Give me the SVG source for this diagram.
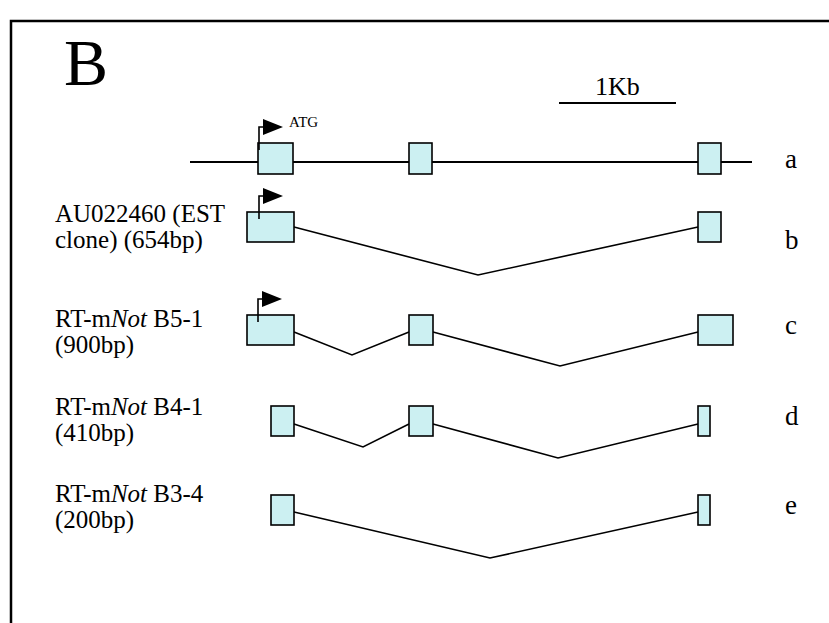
<svg xmlns="http://www.w3.org/2000/svg" width="829" height="623" viewBox="0 0 829 623">
<defs>
<style>
.ex{fill:#ccf0f2;stroke:#000;stroke-width:1.6}
.ln{fill:none;stroke:#000;stroke-width:1.6}
.t{font-family:"Liberation Serif","Times New Roman",serif;fill:#000}
.lab{font-size:25px}
.row{font-size:27px}
</style>
<g id="flag"><path d="M0,0 V-23 H4" fill="none" stroke="#000" stroke-width="1.6"/><polygon points="4,-31 4,-15 24,-23" fill="#000"/></g>
</defs>
<rect width="829" height="623" fill="#fff"/>
<path d="M11,623 V21 H829" fill="none" stroke="#000" stroke-width="2.5"/>
<text class="t" x="64" y="85" font-size="66">B</text>
<g id="scalebar">
<text class="t" x="595" y="95" font-size="26">1Kb</text>
<line x1="559" y1="103" x2="676" y2="103" stroke="#000" stroke-width="2.2"/>
</g>
<g id="connectors">
<line x1="190" y1="162" x2="752" y2="162" stroke="#000" stroke-width="2"/>
<polyline class="ln" points="294,227 478,275 698,227"/>
<polyline class="ln" points="294,332 352,355 409,332"/>
<polyline class="ln" points="433,332 560,366 698,332"/>
<polyline class="ln" points="294,424 363,447 409,424"/>
<polyline class="ln" points="433,424 558,458 698,424"/>
<polyline class="ln" points="294,512 490,558 698,512"/>
</g>
<g id="row-a">
<rect class="ex" x="258" y="143" width="35" height="31"/>
<rect class="ex" x="409" y="143" width="23" height="31"/>
<rect class="ex" x="698" y="143" width="23" height="31"/>
<use href="#flag" x="259" y="150"/>
<text class="t" x="289" y="127" font-size="15">ATG</text>
<text class="t row" x="785" y="168">a</text>
</g>
<g id="row-b">
<rect class="ex" x="247" y="212" width="47" height="30"/>
<rect class="ex" x="698" y="212" width="23" height="30"/>
<use href="#flag" x="259" y="219"/>
<text class="t lab" x="55" y="222">AU022460 (EST</text>
<text class="t lab" x="55" y="248">clone) (654bp)</text>
<text class="t row" x="785" y="249">b</text>
</g>
<g id="row-c">
<rect class="ex" x="247" y="315" width="47" height="30"/>
<rect class="ex" x="409" y="315" width="24" height="30"/>
<rect class="ex" x="698" y="315" width="35" height="30"/>
<use href="#flag" x="258" y="322"/>
<text class="t lab" x="55" y="327">RT-m<tspan font-style="italic">Not</tspan> B5-1</text>
<text class="t lab" x="55" y="353">(900bp)</text>
<text class="t row" x="785" y="334">c</text>
</g>
<g id="row-d">
<rect class="ex" x="271" y="406" width="23" height="30"/>
<rect class="ex" x="409" y="406" width="24" height="30"/>
<rect class="ex" x="698" y="406" width="12" height="30"/>
<text class="t lab" x="55" y="415">RT-m<tspan font-style="italic">Not</tspan> B4-1</text>
<text class="t lab" x="55" y="441">(410bp)</text>
<text class="t row" x="785" y="425">d</text>
</g>
<g id="row-e">
<rect class="ex" x="271" y="495" width="23" height="30"/>
<rect class="ex" x="698" y="495" width="12" height="30"/>
<text class="t lab" x="55" y="502">RT-m<tspan font-style="italic">Not</tspan> B3-4</text>
<text class="t lab" x="55" y="528">(200bp)</text>
<text class="t row" x="785" y="514">e</text>
</g>
</svg>
